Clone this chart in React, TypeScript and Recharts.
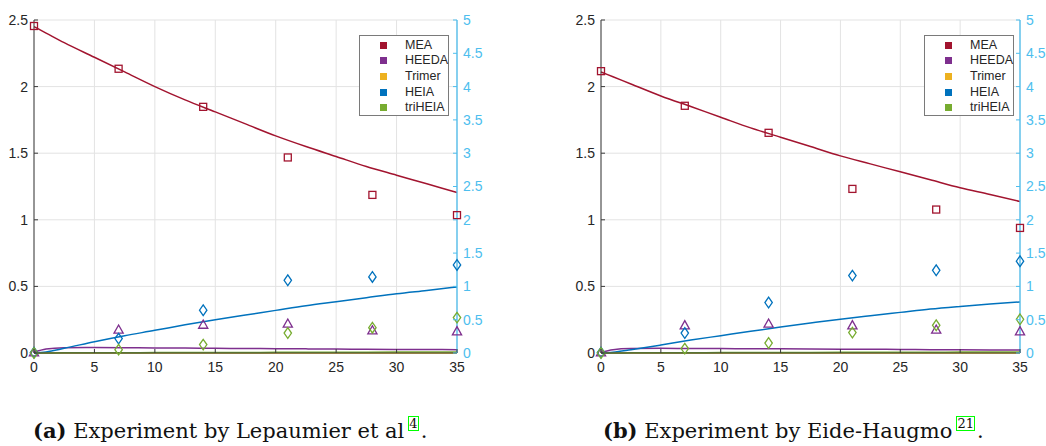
import React from 'react';
import { ComposedChart, Line, Scatter, XAxis, YAxis, CartesianGrid } from 'recharts';

// ---------- data ----------
const sampleDays = [0, 7, 14, 21, 28, 35];
const modelDays = [0, 1, 2.5, 5, 7.5, 10, 12.5, 15, 17.5, 20, 22.5, 25, 27.5, 30, 32.5, 35];
const xTicks = [0, 5, 10, 15, 20, 25, 30, 35];
const leftTicks = [0, 0.5, 1, 1.5, 2, 2.5];
const rightTicks = [0, 0.5, 1, 1.5, 2, 2.5, 3, 3.5, 4, 4.5, 5];
const seriesNames = ['MEA', 'HEEDA', 'Trimer', 'HEIA', 'triHEIA'];

// (a) Lepaumier et al
const aMeaExp = [2.455, 2.134, 1.848, 1.468, 1.187, 1.035];
const aHeedaExp = [0.005, 0.176, 0.213, 0.221, 0.17, 0.163];
const aHeiaExp = [0.003, 0.108, 0.321, 0.546, 0.571, 0.661];
const aTriheiaExp = [0.0, 0.025, 0.063, 0.15, 0.19, 0.266];
const aMeaModel = [2.45, 2.402, 2.33, 2.22, 2.11, 2.0, 1.9, 1.81, 1.72, 1.63, 1.55, 1.475, 1.4, 1.335, 1.27, 1.205];
const aHeedaModel = [0.005, 0.03, 0.04, 0.042, 0.04, 0.038, 0.037, 0.035, 0.034, 0.032, 0.031, 0.03, 0.028, 0.027, 0.026, 0.025];
const aHeiaModel = [0, 0.008, 0.035, 0.085, 0.13, 0.17, 0.212, 0.25, 0.285, 0.32, 0.355, 0.385, 0.415, 0.445, 0.47, 0.496];
const aTriheiaModel = [0, 0, 0.001, 0.002, 0.002, 0.003, 0.003, 0.004, 0.004, 0.005, 0.005, 0.006, 0.006, 0.007, 0.007, 0.008];
const aTrimerModel = [0, 0, 0, 0, 0, 0, 0, 0, 0, 0, 0, 0, 0, 0, 0, 0];

// (b) Eide-Haugmo
const bMeaExp = [2.116, 1.856, 1.653, 1.232, 1.077, 0.939];
const bHeedaExp = [0.005, 0.208, 0.221, 0.208, 0.176, 0.163];
const bHeiaExp = [0.003, 0.15, 0.379, 0.581, 0.621, 0.689];
const bTriheiaExp = [0.0, 0.033, 0.075, 0.153, 0.208, 0.253];
const bMeaModel = [2.11, 2.074, 2.02, 1.93, 1.85, 1.77, 1.69, 1.62, 1.55, 1.48, 1.42, 1.36, 1.3, 1.24, 1.19, 1.137];
const bHeedaModel = [0.005, 0.025, 0.033, 0.035, 0.034, 0.033, 0.032, 0.031, 0.03, 0.029, 0.028, 0.027, 0.025, 0.024, 0.023, 0.022];
const bHeiaModel = [0, 0.006, 0.025, 0.06, 0.097, 0.13, 0.163, 0.195, 0.225, 0.254, 0.28, 0.305, 0.33, 0.35, 0.368, 0.383];
const bTriheiaModel = [0, 0, 0.001, 0.002, 0.002, 0.003, 0.003, 0.004, 0.004, 0.005, 0.005, 0.006, 0.006, 0.007, 0.007, 0.008];
const bTrimerModel = [0, 0, 0, 0, 0, 0, 0, 0, 0, 0, 0, 0, 0, 0, 0, 0];

// ---------- style ----------
const COLORS: Record<string, string> = {
  MEA: '#A2142F',
  HEEDA: '#7E2F8E',
  Trimer: '#EDB120',
  HEIA: '#0072BD',
  triHEIA: '#77AC30',
};
const AXIS = '#3a3a3a';
const RIGHT = '#4DBEEE';
const GRID = '#e3e3e3';
const TICK_FONT = "'Liberation Sans', Arial, Helvetica, sans-serif";
const TICK_SIZE = 4;
const TICK_MARGIN = 2;
const X_TICK_SIZE = 6;
const X_TICK_MARGIN = 3;
const INNER_TICK = 4;

const zip = (xs: number[], ys: number[]) => xs.map((t, i) => ({ t, v: ys[i] }));

const fmt = (v: number) => String(v);

const LeftTick = (p: any) => {
  const ax = p.x + TICK_SIZE + TICK_MARGIN;
  return (
    <g>
      <line x1={ax} x2={ax + INNER_TICK} y1={p.y} y2={p.y} stroke={AXIS} strokeWidth={1} />
      <text x={p.x} y={p.y} dy="0.355em" textAnchor="end" fill="#262626" fontSize={14} fontFamily={TICK_FONT}>
        {fmt(p.payload.value)}
      </text>
    </g>
  );
};
const RightTick = (p: any) => {
  const ax = p.x - TICK_SIZE - TICK_MARGIN;
  return (
    <g>
      <line x1={ax - INNER_TICK} x2={ax} y1={p.y} y2={p.y} stroke={RIGHT} strokeWidth={1} />
      <text x={p.x} y={p.y} dy="0.355em" textAnchor="start" fill={RIGHT} fontSize={14} fontFamily={TICK_FONT}>
        {fmt(p.payload.value)}
      </text>
    </g>
  );
};
const BottomTick = (p: any) => {
  const ay = p.y - X_TICK_SIZE - X_TICK_MARGIN;
  return (
    <g>
      <line x1={p.x} x2={p.x} y1={ay} y2={ay - INNER_TICK} stroke={AXIS} strokeWidth={1} />
      <text x={p.x} y={p.y} dy="0.71em" textAnchor="middle" fill="#262626" fontSize={14} fontFamily={TICK_FONT}>
        {fmt(p.payload.value)}
      </text>
    </g>
  );
};

const Square = (color: string) => (p: any) => {
  const { cx, cy } = p;
  if (cx == null || cy == null) return <g />;
  return <rect x={cx - 3.5} y={cy - 3.5} width={7} height={7} fill="none" stroke={color} strokeWidth={1.3} />;
};
const Triangle = (color: string) => (p: any) => {
  const { cx, cy } = p;
  if (cx == null || cy == null) return <g />;
  return (
    <polygon
      points={`${cx - 4.6},${cy + 3.6} ${cx + 4.6},${cy + 3.6} ${cx},${cy - 4.6}`}
      fill="none"
      stroke={color}
      strokeWidth={1.3}
    />
  );
};
const Diamond = (color: string) => (p: any) => {
  const { cx, cy } = p;
  if (cx == null || cy == null) return <g />;
  return (
    <polygon
      points={`${cx},${cy - 5.3} ${cx + 3.7},${cy} ${cx},${cy + 5.3} ${cx - 3.7},${cy}`}
      fill="none"
      stroke={color}
      strokeWidth={1.3}
    />
  );
};

type PanelProps = {
  left: number;
  width: number;
  leftAxisWidth: number;
  rightAxisWidth: number;
  mea: number[];
  heeda: number[];
  heia: number[];
  triheia: number[];
  meaModel: number[];
  heedaModel: number[];
  heiaModel: number[];
  triheiaModel: number[];
  trimerModel: number[];
  legendLeft: number;
};

const Panel = (p: PanelProps) => {
  const lineProps = { type: 'monotone' as const, dot: false, isAnimationActive: false, strokeWidth: 1.5, yAxisId: 'left', dataKey: 'v' };
  return (
    <div style={{ position: 'absolute', left: p.left, top: 0, width: p.width, height: 380 }}>
      <ComposedChart width={p.width} height={380} margin={{ top: 20, right: 0, bottom: 0, left: 0 }} style={{ overflow: 'visible' }}>
        <CartesianGrid yAxisId="left" stroke={GRID} strokeWidth={1} />
        <XAxis
          dataKey="t"
          type="number"
          domain={[0, 35]}
          ticks={xTicks}
          height={27}
          stroke={AXIS}
          tickLine={false}
          tickSize={X_TICK_SIZE}
          tickMargin={X_TICK_MARGIN}
          tick={BottomTick}
        />
        <YAxis
          yAxisId="left"
          orientation="left"
          type="number"
          domain={[0, 2.5]}
          ticks={leftTicks}
          width={p.leftAxisWidth}
          stroke={AXIS}
          tickLine={false}
          tickSize={TICK_SIZE}
          tickMargin={TICK_MARGIN}
          tick={LeftTick}
        />
        <YAxis
          yAxisId="right"
          orientation="right"
          type="number"
          domain={[0, 5]}
          ticks={rightTicks}
          width={p.rightAxisWidth}
          stroke={RIGHT}
          strokeWidth={1.3}
          tickLine={false}
          tickSize={TICK_SIZE}
          tickMargin={TICK_MARGIN}
          tick={RightTick}
        />
        <Line {...lineProps} yAxisId="right" data={zip(modelDays, p.trimerModel)} stroke={COLORS.Trimer} />
        <Line {...lineProps} data={zip(modelDays, p.meaModel)} stroke={COLORS.MEA} />
        <Line {...lineProps} data={zip(modelDays, p.heedaModel)} stroke={COLORS.HEEDA} />
        <Line {...lineProps} data={zip(modelDays, p.heiaModel)} stroke={COLORS.HEIA} />
        <Line {...lineProps} data={zip(modelDays, p.triheiaModel)} stroke={COLORS.triHEIA} />
        <Scatter yAxisId="left" dataKey="v" data={zip(sampleDays, p.mea)} shape={Square(COLORS.MEA)} isAnimationActive={false} />
        <Scatter yAxisId="left" dataKey="v" data={zip(sampleDays, p.heeda)} shape={Triangle(COLORS.HEEDA)} isAnimationActive={false} />
        <Scatter yAxisId="left" dataKey="v" data={zip(sampleDays, p.heia)} shape={Diamond(COLORS.HEIA)} isAnimationActive={false} />
        <Scatter yAxisId="left" dataKey="v" data={zip(sampleDays, p.triheia)} shape={Diamond(COLORS.triHEIA)} isAnimationActive={false} />
      </ComposedChart>
      <div
        style={{
          position: 'absolute',
          left: p.legendLeft,
          top: 35,
          width: 90,
          height: 81,
          border: '1px solid #7a7a7a',
          background: '#fff',
          boxSizing: 'border-box',
          fontFamily: TICK_FONT,
          fontSize: 12.5,
          color: '#262626',
        }}
      >
        {seriesNames.map((n, i) => (
          <div key={n} style={{ position: 'absolute', top: 1.5 + i * 15.7, left: 0, height: 15, width: '100%' }}>
            <div style={{ position: 'absolute', left: 20, top: 4, width: 7, height: 7, background: COLORS[n] }} />
            <div style={{ position: 'absolute', left: 45, top: 0, lineHeight: '15px', whiteSpace: 'nowrap' }}>{n}</div>
          </div>
        ))}
      </div>
    </div>
  );
};

const CAPTION_FONT = "'DejaVu Serif', 'Liberation Serif', serif";
const Ref = ({ n }: { n: string }) => (
  <span
    style={{
      display: 'inline-block',
      border: '1.5px solid #00ff00',
      fontSize: 13,
      lineHeight: '13px',
      position: 'relative',
      top: -10,
      marginLeft: 4,
      marginRight: 2,
    }}
  >
    {n}
  </span>
);

export default function App() {
  return (
    <div style={{ position: 'absolute', left: 0, top: 0, width: 1046, height: 446, background: '#fff', overflow: 'hidden' }}>
      <Panel
        left={0}
        width={520}
        leftAxisWidth={34}
        rightAxisWidth={63}
        mea={aMeaExp}
        heeda={aHeedaExp}
        heia={aHeiaExp}
        triheia={aTriheiaExp}
        meaModel={aMeaModel}
        heedaModel={aHeedaModel}
        heiaModel={aHeiaModel}
        triheiaModel={aTriheiaModel}
        trimerModel={aTrimerModel}
        legendLeft={359}
      />
      <Panel
        left={520}
        width={526}
        leftAxisWidth={81}
        rightAxisWidth={26}
        mea={bMeaExp}
        heeda={bHeedaExp}
        heia={bHeiaExp}
        triheia={bTriheiaExp}
        meaModel={bMeaModel}
        heedaModel={bHeedaModel}
        heiaModel={bHeiaModel}
        triheiaModel={bTriheiaModel}
        trimerModel={bTrimerModel}
        legendLeft={404}
      />
      <div style={{ position: 'absolute', left: 33, top: 418, fontFamily: CAPTION_FONT, fontSize: 21, color: '#111', whiteSpace: 'nowrap' }}>
        <b>(a)</b> Experiment by Lepaumier et al<Ref n="4" />.
      </div>
      <div style={{ position: 'absolute', left: 603, top: 418, fontFamily: CAPTION_FONT, fontSize: 21, color: '#111', whiteSpace: 'nowrap' }}>
        <b>(b)</b> Experiment by Eide-Haugmo<Ref n="21" />.
      </div>
    </div>
  );
}
